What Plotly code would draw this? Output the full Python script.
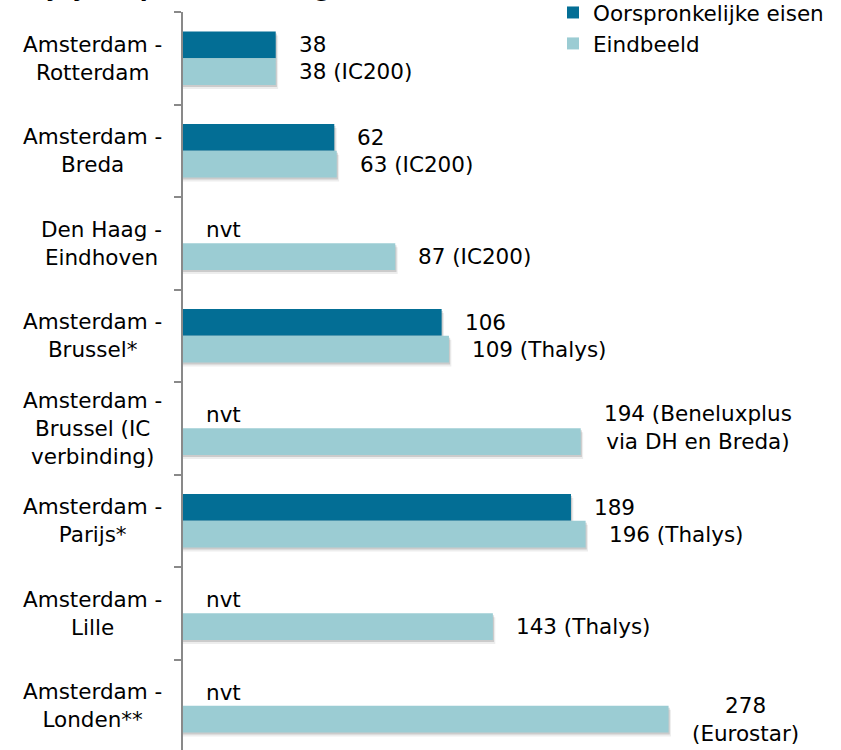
import plotly.graph_objects as go

# ---- data ----
categories = [
    "Amsterdam -<br>Rotterdam",
    "Amsterdam -<br>Breda",
    "Den Haag -<br>Eindhoven",
    "Amsterdam -<br>Brussel*",
    "Amsterdam -<br>Brussel (IC<br>verbinding)",
    "Amsterdam -<br>Parijs*",
    "Amsterdam -<br>Lille",
    "Amsterdam -<br>Londen**",
]
series_names = ["Oorspronkelijke eisen", "Eindbeeld"]
# bar lengths as drawn in the picture
oorspronkelijk = [38, 62, None, 106, None, 159, None, None]
eindbeeld = [38, 63, 87, 109, 163, 165, 127, 199]
# label texts shown next to the bars
oorspronkelijk_labels = ["38", "62", "nvt", "106", "nvt", "189", "nvt", "nvt"]
eindbeeld_labels = [
    "38 (IC200)", "63 (IC200)", "87 (IC200)", "109 (Thalys)",
    "194 (Beneluxplus<br>via DH en Breda)", "196 (Thalys)", "143 (Thalys)",
    "278<br>(Eurostar)",
]
title_text = "Rijtijden per verbinding"

# ---- style ----
DARK = "#036E95"
LIGHT = "#9BCCD3"
AXIS = "#898989"
FONT = "DejaVu Sans"
FS = 21.5
W, H = 841, 750
ML, MT = 183, 12
ROW_PX = 92.5
PX_PER_UNIT = 2.44
plot_w = W - ML
plot_h = H - MT
y_bottom = -0.5 + plot_h / ROW_PX
label_shift_up = [0, 0, 0, 0, 14, 0, 0, 0]

n = len(categories)
ypos = list(range(n))
off = 0.144

fig = go.Figure()
fig.add_trace(go.Bar(y=ypos, x=oorspronkelijk, orientation="h", name=series_names[0],
                     marker=dict(color=DARK, line=dict(width=0)), hoverinfo="skip"))
fig.add_trace(go.Bar(y=ypos, x=eindbeeld, orientation="h", name=series_names[1],
                     marker=dict(color=LIGHT, line=dict(width=0)), hoverinfo="skip"))

shapes = []
unit_px = 1 / ROW_PX
for i in range(n):
    for val, dy in ((oorspronkelijk[i], -off), (eindbeeld[i], off)):
        if val is None:
            continue
        for k, alpha in ((2, 0.14), (4, 0.07)):
            shapes.append(dict(type="rect", xref="x", yref="y", layer="below",
                               x0=0, x1=val + k * 0.6 / PX_PER_UNIT,
                               y0=i + dy - 0.144 + k * unit_px,
                               y1=i + dy + 0.144 + k * unit_px,
                               fillcolor=f"rgba(0,0,0,{alpha})", line=dict(width=0)))

annotations = []
for i in range(n):
    annotations.append(dict(x=0, xref="paper", y=i, yref="y", text=categories[i],
                            xanchor="right", yanchor="middle", align="center",
                            xshift=-19, showarrow=False,
                            font=dict(family=FONT, size=FS, color="#000000")))
    v = oorspronkelijk[i] if oorspronkelijk[i] is not None else 0
    annotations.append(dict(x=v, xref="x", y=i - off, yref="y", text=oorspronkelijk_labels[i],
                            xanchor="left", yanchor="middle", xshift=21, showarrow=False,
                            font=dict(family=FONT, size=FS, color="#000000")))
    annotations.append(dict(x=eindbeeld[i], xref="x", y=i + off, yref="y", text=eindbeeld_labels[i],
                            xanchor="left", yanchor="middle", align="center", xshift=21,
                            yshift=label_shift_up[i], showarrow=False,
                            font=dict(family=FONT, size=FS, color="#000000")))

# title: mostly above the visible page, only descenders show
annotations.append(dict(x=(21 - ML) / plot_w, xref="paper", y=1, yref="paper",
                        text="<b>" + title_text + "</b>",
                        xanchor="left", yanchor="bottom", yshift=9, showarrow=False,
                        font=dict(family=FONT, size=23, color="#000000")))

fig.update_layout(
    width=W, height=H,
    margin=dict(l=ML, r=0, t=MT, b=0, pad=0, autoexpand=False),
    paper_bgcolor="white", plot_bgcolor="white",
    barmode="group", bargap=0.424, bargroupgap=0,
    showlegend=True, hovermode=False,
    legend=dict(xref="container", yref="paper", x=553 / W, xanchor="left",
                y=1 + 20 / plot_h, yanchor="top",
                font=dict(family=FONT, size=FS, color="#000000"),
                bgcolor="rgba(0,0,0,0)", tracegroupgap=0, itemwidth=30,
                borderwidth=0),
    xaxis=dict(range=[0, plot_w / PX_PER_UNIT], visible=False, fixedrange=True),
    yaxis=dict(range=[y_bottom, -0.5], tickmode="array", fixedrange=True,
               tickvals=[k - 0.5 for k in range(n + 1)], ticktext=[""] * (n + 1),
               ticks="outside", ticklen=7, tickcolor=AXIS, tickwidth=1.5,
               showline=True, linecolor=AXIS, linewidth=1.5, showgrid=False,
               zeroline=False, showticklabels=False),
    shapes=shapes,
    annotations=annotations,
    font=dict(family=FONT, size=FS, color="#000000"),
)

fig.write_html("out.html", config={"displayModeBar": False},
               post_script="document.body.style.margin='0';document.body.style.overflow='hidden';")
